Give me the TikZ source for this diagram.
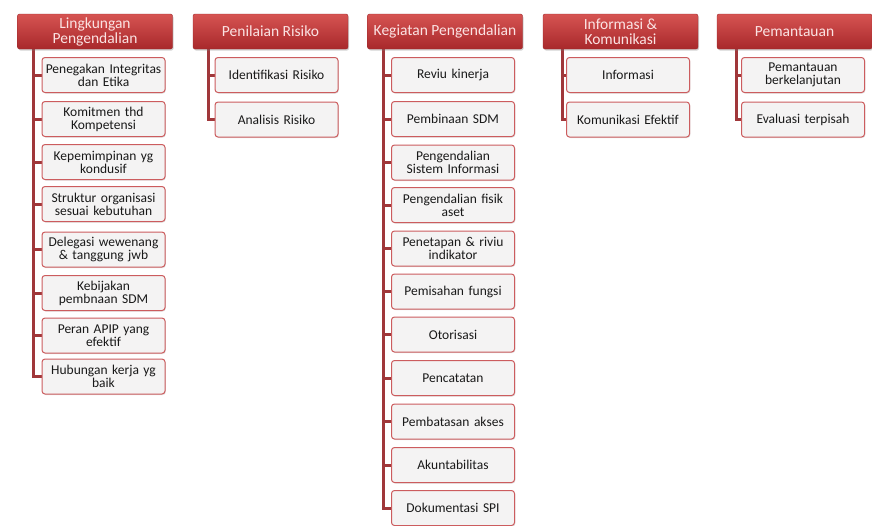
\documentclass[tikz,border=0pt]{standalone}
\usepackage{fontspec}
\setmainfont{Carlito}
\usetikzlibrary{shadows,backgrounds}
\definecolor{hdrtop}{HTML}{D65452}
\definecolor{hdrbot}{HTML}{A8282B}
\definecolor{hdrline}{HTML}{9C2A2C}
\definecolor{hdrtext}{HTML}{FBE3E3}
\definecolor{itemline}{HTML}{CC5C5E}
\definecolor{itemfill}{HTML}{F4F3F3}
\definecolor{trunkred}{HTML}{A0373A}
\tikzset{
	header/.style={draw=hdrline, rounded corners=2pt, top color=hdrtop, bottom color=hdrbot,
		minimum width=155pt, minimum height=35pt, inner sep=1pt, text=hdrtext, align=center,
		font=\fontsize{15.5}{15}\selectfont,
		drop shadow={shadow xshift=1pt, shadow yshift=-1.5pt, opacity=0.35}},
	item/.style={draw=itemline, line width=1pt, rounded corners=3pt, fill=itemfill,
		minimum width=123pt, minimum height=35pt, inner sep=1pt, text width=121pt,
		text=black!90, align=center, font=\fontsize{13.5}{13}\selectfont,
		drop shadow={shadow xshift=0.8pt, shadow yshift=-1pt, opacity=0.25}},
	trunk/.style={draw=trunkred, line width=3pt}
}

\begin{document}
\begin{tikzpicture}[x=1pt, y=-1pt]
		%%%%% START %%%%%
		\useasboundingbox (0,0) rectangle (872,525);
		
		% headers
		\node[header] (lp) at (95, 31.5) {Lingkungan\\Pengendalian};
		\node[header] (pr) at (270.5, 31.5) {Penilaian Risiko};
		\node[header] (kp) at (445, 31.5) {Kegiatan Pengendalian};
		\node[header] (ik) at (620.5, 31.5) {Informasi \&\\Komunikasi};
		\node[header] (pm) at (794.5, 31.5) {Pemantauan};
		
		% Lingkungan Pengendalian
		\foreach \i/\y/\txt in {1/75/{Penegakan Integritas\\dan Etika}, 2/119/{Komitmen thd\\Kompetensi},
			3/162/{Kepemimpinan yg\\kondusif}, 4/204/{Struktur organisasi\\sesuai kebutuhan},
			5/249.5/{Delegasi wewenang\\\& tanggung jwb}, 6/293/{Kebijakan\\pembnaan SDM},
			7/335.5/{Peran APIP yang\\efektif}, 8/376.5/{Hubungan kerja yg\\baik}}
			\node[item] (lp\i) at (103.5, \y) {\txt};
		
		% Penilaian Risiko
		\node[item] (pr1) at (276.5, 75) {Identifikasi Risiko};
		\node[item] (pr2) at (276.5, 119.5) {Analisis Risiko};
		
		% Kegiatan Pengendalian
		\foreach \i/\y/\txt in {1/75/{Reviu kinerja}, 2/119/{Pembinaan SDM},
			3/162.5/{Pengendalian\\Sistem Informasi}, 4/205/{Pengendalian fisik\\aset},
			5/248.5/{Penetapan \& riviu\\indikator}, 6/291.5/{Pemisahan fungsi},
			7/334.5/{Otorisasi}, 8/378/{Pencatatan}, 9/421.5/{Pembatasan akses},
			10/465/{Akuntabilitas}, 11/508/{Dokumentasi SPI}}
			\node[item] (kp\i) at (453, \y) {\txt};
		
		% Informasi & Komunikasi
		\node[item] (ik1) at (628, 75) {Informasi};
		\node[item] (ik2) at (628, 119.5) {Komunikasi Efektif};
		
		% Pemantauan
		\node[item] (pm1) at (803, 75) {Pemantauan\\berkelanjutan};
		\node[item] (pm2) at (803, 119.5) {Evaluasi terpisah};
		
		% trunks
		\coordinate (lpt) at (33, 49);
		\coordinate (prt) at (208, 49);
		\coordinate (kpt) at (383, 49);
		\coordinate (ikt) at (562, 49);
		\coordinate (pmt) at (736, 49);
		\begin{scope}[on background layer]
			\foreach \i in {1,...,8} \draw[trunk] (lpt) |- (lp\i.west);
			\foreach \i in {1,2} \draw[trunk] (prt) |- (pr\i.west);
			\foreach \i in {1,...,11} \draw[trunk] (kpt) |- (kp\i.west);
			\foreach \i in {1,2} \draw[trunk] (ikt) |- (ik\i.west);
			\foreach \i in {1,2} \draw[trunk] (pmt) |- (pm\i.west);
		\end{scope}
		
		%%%%% END %%%%%
\end{tikzpicture}
\end{document}
